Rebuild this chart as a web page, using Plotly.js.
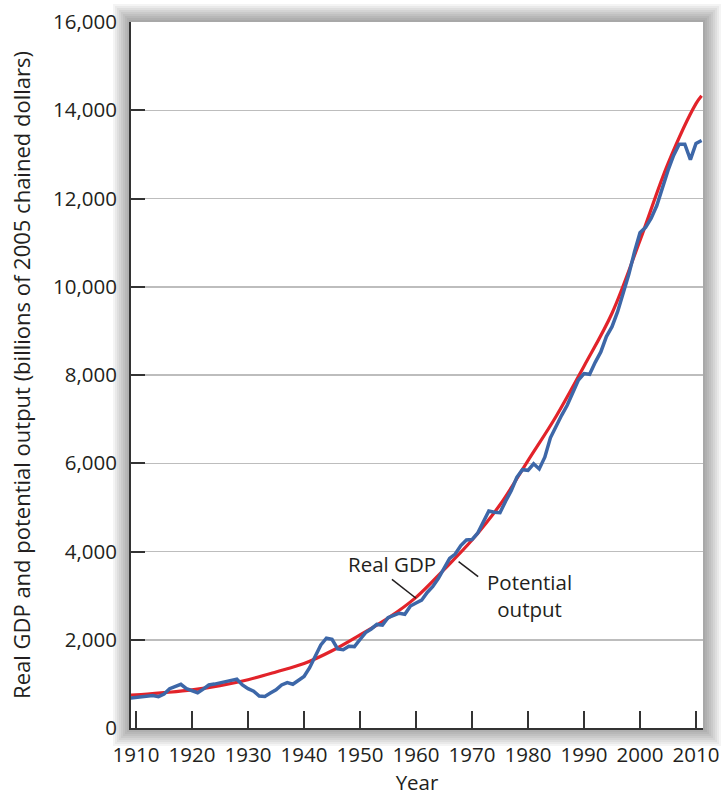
<!DOCTYPE html>
<html>
<head>
<meta charset="utf-8">
<script src="https://cdn.plot.ly/plotly-3.0.1.min.js"></script>
<style>
html,body{margin:0;padding:0;background:#ffffff;}
#chart{width:722px;height:796px;}
</style>
</head>
<body>
<div id="chart"></div>
<script>
// ---- data (billions of 2005 chained dollars) ----
const gdpStartYear = 1909;
const realGDP = [
  680, 690, 700, 725, 735, 710, 770, 890, 945, 990,      // 1909-1918
  890, 840, 800, 880, 975, 995, 1025, 1070, 1080, 1105,  // 1919-1928
  976, 892, 834, 725, 716, 792, 864, 977, 1027, 992,     // 1929-1938
  1072, 1166, 1366, 1617, 1881, 2034, 2011, 1792, 1776, 1854, // 1939-1948
  1845, 2006, 2161, 2244, 2347, 2332, 2500, 2550, 2601, 2578, // 1949-1958
  2763, 2831, 2897, 3072, 3207, 3392, 3610, 3845, 3943, 4133, // 1959-1968
  4262, 4270, 4413, 4648, 4917, 4890, 4880, 5141, 5378, 5678, // 1969-1978
  5855, 5839, 5987, 5871, 6136, 6577, 6849, 7087, 7313, 7614, // 1979-1988
  7886, 8034, 8015, 8287, 8523, 8871, 9094, 9434, 9854, 10284, // 1989-1998
  10780, 11226, 11347, 11553, 11841, 12264, 12638, 12976, 13229, 13229, // 1999-2008
  12881, 13248, 13315                                    // 2009-2011
];
const potentialYears = [1909, 1910, 1915, 1920, 1925, 1930, 1935, 1940, 1945, 1950, 1955,
  1960, 1965, 1970, 1975, 1980, 1985, 1990, 1995, 2000, 2005, 2010, 2011];
const potentialOutput = [745, 750, 800, 862, 960, 1095, 1270, 1460, 1750, 2110, 2490,
  2960, 3590, 4260, 5060, 6060, 7060, 8200, 9400, 11050, 12790, 14150, 14330];

const xTickVals = [1910, 1920, 1930, 1940, 1950, 1960, 1970, 1980, 1990, 2000, 2010];
const yTickVals = [0, 2000, 4000, 6000, 8000, 10000, 12000, 14000, 16000];

const gdpYears = realGDP.map((v, i) => gdpStartYear + i);

// ---- layout constants ----
const W = 722, H = 796;
const M = {l: 131, r: 19, t: 22, b: 68};
const plotW = W - M.l - M.r, plotH = H - M.t - M.b;
const FONT = '"Open Sans", "Liberation Sans", sans-serif';
const TXT = '#231f20';
const FS = 20.5;

// soft shadow around the plotting area
const shapes = [];
for (let i = 9; i >= 1; i--) {
  const d = i * 2;
  shapes.push({
    type: 'rect', xref: 'paper', yref: 'paper', layer: 'below',
    x0: -d / plotW, x1: 1 + d / plotW, y0: -d / plotH, y1: 1 + d / plotH,
    line: {width: 0}, fillcolor: 'rgba(0,0,0,0.045)'
  });
}
shapes.push({
  type: 'rect', xref: 'paper', yref: 'paper', layer: 'below',
  x0: 0, x1: 1, y0: 0, y1: 1, line: {width: 0}, fillcolor: '#ffffff'
});
// label pointer lines
shapes.push({type: 'line', xref: 'x', yref: 'y', x0: 1955.7, y0: 3370, x1: 1960.0, y1: 2940,
  line: {color: TXT, width: 1.5}});
shapes.push({type: 'line', xref: 'x', yref: 'y', x0: 1967.6, y0: 3770, x1: 1971.1, y1: 3430,
  line: {color: TXT, width: 1.5}});

const traces = [
  {
    x: potentialYears, y: potentialOutput, type: 'scatter', mode: 'lines',
    line: {color: '#e2232a', width: 3.2, shape: 'spline', smoothing: 1},
    hoverinfo: 'skip', name: 'Potential output'
  },
  {
    x: gdpYears, y: realGDP, type: 'scatter', mode: 'lines',
    line: {color: '#3d67a8', width: 3.5},
    hoverinfo: 'skip', name: 'Real GDP'
  }
];

const layout = {
  width: W, height: H,
  margin: M,
  paper_bgcolor: '#ffffff',
  plot_bgcolor: 'rgba(0,0,0,0)',
  showlegend: false,
  font: {family: FONT, size: FS, color: TXT},
  xaxis: {
    range: [1909.1, 2011.25],
    tickmode: 'array', tickvals: xTickVals,
    ticks: 'inside', ticklen: 17, tickwidth: 2, tickcolor: '#333',
    showline: true, linecolor: '#333', linewidth: 2,
    showgrid: false, zeroline: false,
    tickfont: {family: FONT, size: FS, color: TXT},
    ticklabelstandoff: 7,
    title: {text: 'Year', font: {family: FONT, size: FS, color: TXT}, standoff: 5},
    automargin: false, fixedrange: true
  },
  yaxis: {
    range: [0, 16000],
    tickmode: 'array', tickvals: yTickVals, tickformat: ',d',
    ticks: 'inside', ticklen: 14, tickwidth: 2, tickcolor: '#333',
    showline: true, linecolor: '#333', linewidth: 2,
    showgrid: true, gridcolor: '#bdbdbd', gridwidth: 1.5,
    zeroline: false,
    tickfont: {family: FONT, size: FS, color: TXT},
    ticklabelstandoff: 8,
    title: {text: 'Real GDP and potential output (billions of 2005 chained dollars)',
      font: {family: FONT, size: 22, color: TXT}, standoff: 16},
    automargin: false, fixedrange: true
  },
  shapes: shapes,
  annotations: [
    {x: 1955.7, y: 3717, xref: 'x', yref: 'y', text: 'Real GDP', showarrow: false,
      font: {family: FONT, size: FS, color: TXT}, xanchor: 'center', yanchor: 'middle'},
    {x: 1980.2, y: 2992, xref: 'x', yref: 'y', text: 'Potential<br>output', showarrow: false,
      font: {family: FONT, size: FS, color: TXT}, xanchor: 'center', yanchor: 'middle', align: 'center'}
  ]
};

Plotly.newPlot('chart', traces, layout, {displayModeBar: false, staticPlot: true});
</script>
</body>
</html>
